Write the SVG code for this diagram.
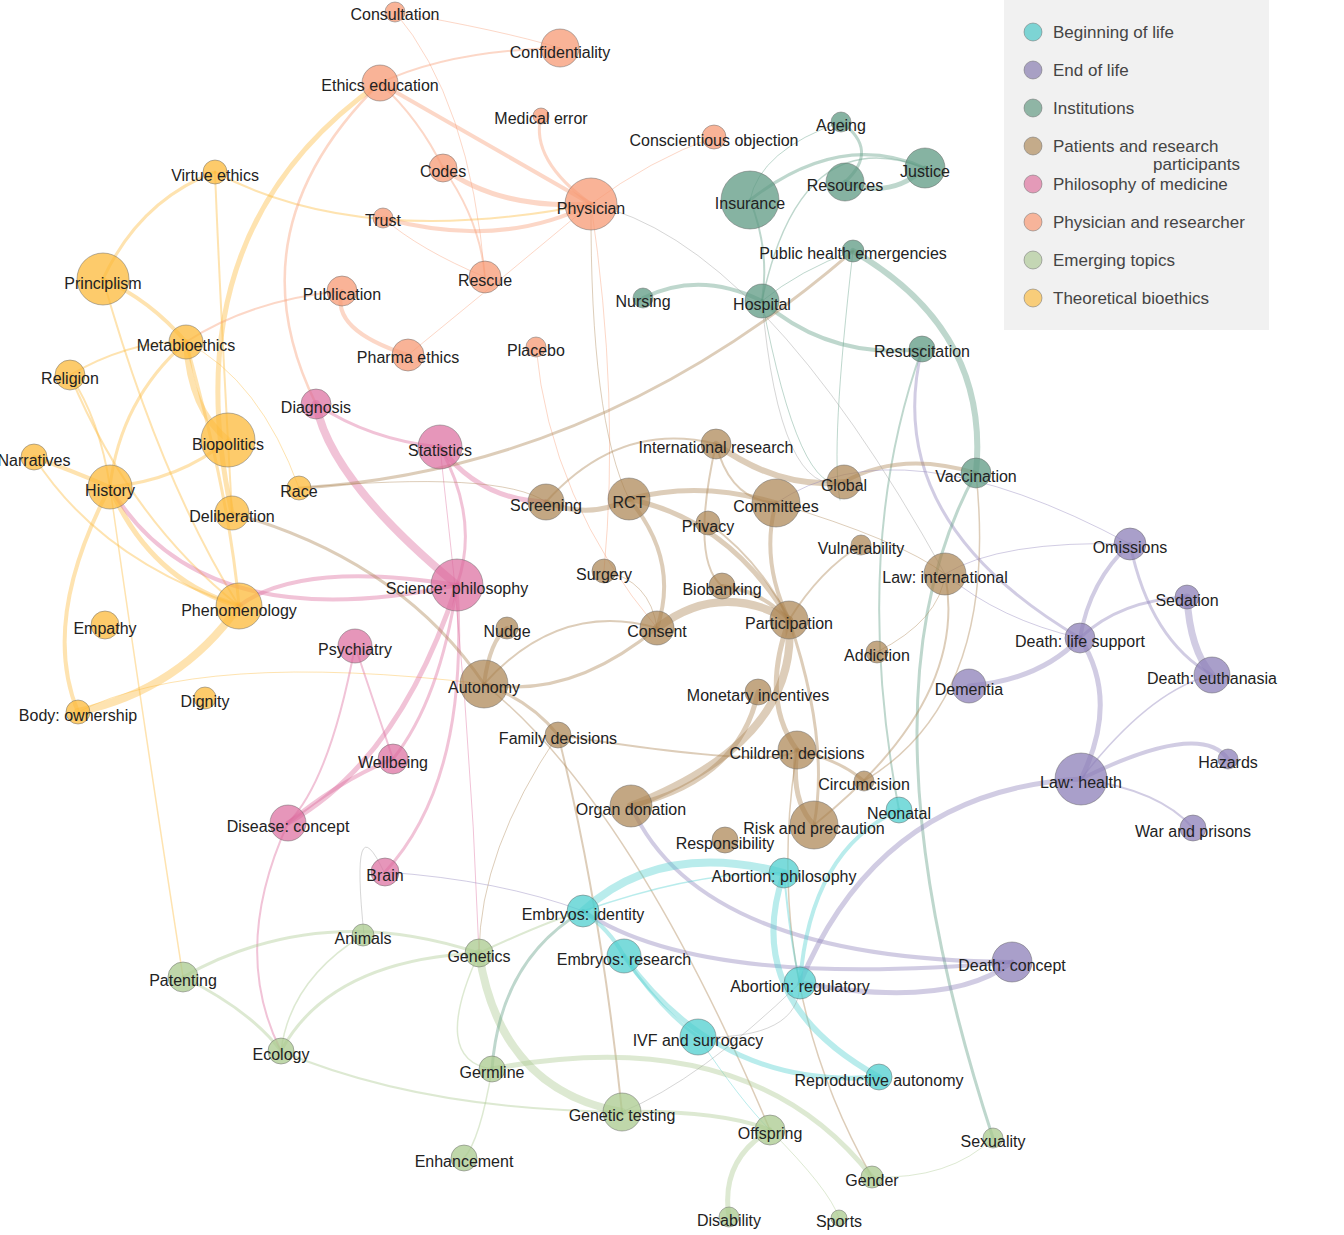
<svg xmlns="http://www.w3.org/2000/svg" width="1344" height="1235" viewBox="0 0 1344 1235">
<style>
text{font-family:"Liberation Sans",Arial,sans-serif;font-size:16px;fill:#222;text-anchor:middle}
.lg text{text-anchor:start;fill:#444;font-size:17px}
circle{stroke:#666;stroke-width:0.8;stroke-opacity:0.6}
.c{fill:#4fcfcf;fill-opacity:0.75}.u{fill:#8c7fb8;fill-opacity:0.75}.t{fill:#5d9a83;fill-opacity:0.75}.b{fill:#a9824f;fill-opacity:0.7}
.p{fill:#dc6a9c;fill-opacity:0.7}.s{fill:#f79a74;fill-opacity:0.75}.g{fill:#a9c98e;fill-opacity:0.75}.o{fill:#fcb93a;fill-opacity:0.75}
#edges path{fill:none;stroke-opacity:0.4;stroke-linecap:round}
.ec{stroke:#4fcfcf}.eu{stroke:#8c7fb8}.et{stroke:#5d9a83}.eb{stroke:#a9824f}.ep{stroke:#dc6a9c}.es{stroke:#f79a74}.eg{stroke:#a9c98e}.eo{stroke:#fcb93a}.ex{stroke:#999}
</style>
<rect width="1344" height="1235" fill="#fff"/>
<g id="edges">
<path class="eo" stroke-width="5" d="M380 83 Q170 230 232 513"/>
<path class="eo" stroke-width="3" d="M215 172 Q140 200 103 279"/>
<path class="eo" stroke-width="4" d="M103 279 Q150 300 186 342"/>
<path class="eo" stroke-width="6" d="M186 342 Q190 410 228 440"/>
<path class="eo" stroke-width="3" d="M186 342 Q120 400 110 487"/>
<path class="eo" stroke-width="5" d="M110 487 Q150 580 239 606"/>
<path class="eo" stroke-width="4" d="M110 487 Q40 620 78 712"/>
<path class="eo" stroke-width="8" d="M239 606 Q180 690 78 712"/>
<path class="eo" stroke-width="4" d="M34 457 Q70 470 110 487"/>
<path class="eo" stroke-width="2" d="M70 375 Q130 520 239 606"/>
<path class="eo" stroke-width="3" d="M228 440 Q180 480 110 487"/>
<path class="eo" stroke-width="2" d="M215 172 Q360 250 591 204"/>
<path class="eo" stroke-width="2" d="M103 279 Q160 480 239 606"/>
<path class="eo" stroke-width="2" d="M70 375 Q130 340 186 342"/>
<path class="eo" stroke-width="3" d="M186 342 Q230 500 239 606"/>
<path class="eo" stroke-width="2" d="M34 457 Q100 560 239 606"/>
<path class="eo" stroke-width="2" d="M215 172 Q220 300 232 513"/>
<path class="eo" stroke-width="2" d="M70 375 Q100 420 110 487"/>
<path class="eo" stroke-width="1" d="M186 342 Q260 380 299 488"/>
<path class="eo" stroke-width="1.5" d="M110 487 Q140 700 183 977"/>
<path class="eo" stroke-width="1" d="M78 712 Q200 650 484 684"/>
<path class="es" stroke-width="4" d="M380 83 Q480 140 591 204"/>
<path class="es" stroke-width="5" d="M443 168 Q500 210 591 204"/>
<path class="es" stroke-width="4" d="M383 218 Q500 250 591 204"/>
<path class="es" stroke-width="3" d="M541 116 Q530 160 591 204"/>
<path class="es" stroke-width="2" d="M560 48 Q450 50 380 83"/>
<path class="es" stroke-width="4" d="M342 291 Q330 330 408 355"/>
<path class="es" stroke-width="2" d="M380 83 Q420 120 443 168"/>
<path class="es" stroke-width="2" d="M443 168 Q480 220 485 277"/>
<path class="es" stroke-width="2" d="M342 291 Q250 300 186 342"/>
<path class="es" stroke-width="2.5" d="M380 83 Q230 230 316 404"/>
<path class="es" stroke-width="1" d="M395 12 Q470 100 485 277"/>
<path class="es" stroke-width="1" d="M591 204 Q650 160 714 137"/>
<path class="es" stroke-width="1" d="M591 204 Q500 280 408 355"/>
<path class="es" stroke-width="1" d="M591 204 Q620 400 604 571"/>
<path class="es" stroke-width="1" d="M536 347 Q550 500 657 628"/>
<path class="es" stroke-width="1" d="M395 12 Q500 30 560 48"/>
<path class="es" stroke-width="1" d="M383 218 Q420 250 485 277"/>
<path class="ep" stroke-width="8" d="M316 404 Q330 480 457 585"/>
<path class="ep" stroke-width="3" d="M316 404 Q370 440 440 447"/>
<path class="ep" stroke-width="5" d="M440 447 Q480 500 546 502"/>
<path class="ep" stroke-width="3" d="M440 447 Q480 520 457 585"/>
<path class="ep" stroke-width="4" d="M457 585 Q300 560 239 606"/>
<path class="ep" stroke-width="5" d="M457 585 Q400 760 288 823"/>
<path class="ep" stroke-width="3" d="M457 585 Q440 700 393 759"/>
<path class="ep" stroke-width="3" d="M457 585 Q470 780 385 872"/>
<path class="ep" stroke-width="4" d="M457 585 Q200 640 110 487"/>
<path class="ep" stroke-width="2" d="M355 646 Q330 780 288 823"/>
<path class="ep" stroke-width="4" d="M393 759 Q340 780 288 823"/>
<path class="ep" stroke-width="2" d="M288 823 Q230 950 281 1051"/>
<path class="ep" stroke-width="2" d="M355 646 Q380 720 393 759"/>
<path class="ep" stroke-width="1" d="M440 447 Q470 700 479 953"/>
<path class="et" stroke-width="3" d="M750 200 Q840 130 925 168"/>
<path class="et" stroke-width="5" d="M845 182 Q890 200 925 168"/>
<path class="et" stroke-width="3" d="M841 122 Q880 150 845 182"/>
<path class="et" stroke-width="6" d="M853 251 Q990 330 976 473"/>
<path class="et" stroke-width="4" d="M643 298 Q700 270 762 301"/>
<path class="et" stroke-width="4" d="M762 301 Q830 360 922 349"/>
<path class="et" stroke-width="2" d="M750 200 Q770 250 762 301"/>
<path class="eu" stroke-width="3" d="M922 349 Q880 520 1080 638"/>
<path class="et" stroke-width="3" d="M976 473 Q850 700 993 1138"/>
<path class="et" stroke-width="2" d="M922 349 Q850 550 899 810"/>
<path class="et" stroke-width="1.5" d="M762 301 Q800 120 925 168"/>
<path class="et" stroke-width="1" d="M853 251 Q800 270 762 301"/>
<path class="et" stroke-width="1" d="M841 122 Q760 150 750 200"/>
<path class="eb" stroke-width="3" d="M853 251 Q600 470 299 488"/>
<path class="et" stroke-width="1" d="M762 301 Q800 500 844 482"/>
<path class="et" stroke-width="1" d="M853 251 Q830 450 840 500"/>
<path class="eb" stroke-width="5" d="M546 502 Q590 520 629 499"/>
<path class="eb" stroke-width="4" d="M629 499 Q680 560 657 628"/>
<path class="eb" stroke-width="5" d="M629 499 Q700 480 776 503"/>
<path class="eb" stroke-width="5" d="M629 499 Q730 520 789 620"/>
<path class="eb" stroke-width="6" d="M716 444 Q780 490 844 482"/>
<path class="eb" stroke-width="4" d="M844 482 Q900 450 976 473"/>
<path class="eb" stroke-width="8" d="M657 628 Q720 580 789 620"/>
<path class="eb" stroke-width="8" d="M789 620 Q800 740 631 806"/>
<path class="eb" stroke-width="5" d="M789 620 Q760 700 797 750"/>
<path class="eb" stroke-width="3" d="M789 620 Q830 740 814 825"/>
<path class="eb" stroke-width="4" d="M776 503 Q760 560 789 620"/>
<path class="eb" stroke-width="4" d="M722 586 Q760 590 789 620"/>
<path class="eb" stroke-width="2" d="M708 523 Q760 560 789 620"/>
<path class="eb" stroke-width="3" d="M657 628 Q570 700 484 684"/>
<path class="eb" stroke-width="4" d="M484 684 Q490 640 507 628"/>
<path class="eb" stroke-width="3" d="M484 684 Q530 700 558 735"/>
<path class="eb" stroke-width="5" d="M758 692 Q740 780 631 806"/>
<path class="eb" stroke-width="5" d="M797 750 Q790 800 814 825"/>
<path class="eb" stroke-width="3" d="M797 750 Q840 760 864 781"/>
<path class="eb" stroke-width="2" d="M558 735 Q600 900 622 1112"/>
<path class="eu" stroke-width="4" d="M631 806 Q700 960 1012 962"/>
<path class="eb" stroke-width="3" d="M232 513 Q400 560 484 684"/>
<path class="eb" stroke-width="2" d="M716 444 Q690 560 722 586"/>
<path class="eb" stroke-width="2" d="M716 444 Q730 500 776 503"/>
<path class="eb" stroke-width="2" d="M484 684 Q560 600 657 628"/>
<path class="eb" stroke-width="2" d="M546 502 Q620 420 716 444"/>
<path class="eb" stroke-width="2" d="M861 545 Q820 570 789 620"/>
<path class="eb" stroke-width="2" d="M945 574 Q970 700 814 825"/>
<path class="eb" stroke-width="1.5" d="M976 473 Q1000 700 864 781"/>
<path class="eb" stroke-width="1.5" d="M484 684 Q630 800 770 1130"/>
<path class="eb" stroke-width="2" d="M558 735 Q780 770 797 750"/>
<path class="eb" stroke-width="1.5" d="M797 750 Q760 980 872 1177"/>
<path class="eb" stroke-width="1" d="M299 488 Q500 470 546 502"/>
<path class="eb" stroke-width="1" d="M558 735 Q480 850 479 953"/>
<path class="eb" stroke-width="1" d="M604 571 Q650 580 657 628"/>
<path class="eb" stroke-width="1" d="M877 652 Q940 620 945 574"/>
<path class="eb" stroke-width="1" d="M629 499 Q590 420 591 204"/>
<path class="eb" stroke-width="1" d="M776 503 Q900 540 945 574"/>
<path class="eu" stroke-width="4" d="M1130 544 Q1090 580 1080 638"/>
<path class="eu" stroke-width="7" d="M1187 597 Q1190 650 1212 675"/>
<path class="eu" stroke-width="3" d="M1130 544 Q1150 640 1212 675"/>
<path class="eu" stroke-width="5" d="M1080 638 Q1120 700 1081 779"/>
<path class="eu" stroke-width="5" d="M969 686 Q1040 680 1080 638"/>
<path class="eu" stroke-width="4" d="M1081 779 Q1200 720 1228 759"/>
<path class="eu" stroke-width="2" d="M1081 779 Q1160 790 1193 828"/>
<path class="eu" stroke-width="5" d="M1081 779 Q880 790 800 983 Q950 1010 1012 962"/>
<path class="eu" stroke-width="4" d="M583 911 Q700 990 1012 962"/>
<path class="eu" stroke-width="3" d="M1187 597 Q1120 600 1080 638"/>
<path class="eu" stroke-width="1.5" d="M1212 675 Q1150 690 1081 779"/>
<path class="eu" stroke-width="1" d="M1130 544 Q1000 540 945 574"/>
<path class="eu" stroke-width="1" d="M1080 638 Q1000 620 945 574"/>
<path class="eu" stroke-width="1" d="M385 872 Q500 880 583 911"/>
<path class="eu" stroke-width="1" d="M1130 544 Q900 420 776 503"/>
<path class="ec" stroke-width="8" d="M583 911 Q660 840 784 873"/>
<path class="ec" stroke-width="6" d="M784 873 Q740 1000 879 1077"/>
<path class="ec" stroke-width="5" d="M624 956 Q720 1090 879 1077"/>
<path class="ec" stroke-width="4" d="M800 983 Q810 850 899 810"/>
<path class="ec" stroke-width="4" d="M583 911 Q610 930 624 956"/>
<path class="ec" stroke-width="3" d="M624 956 Q660 1010 698 1037"/>
<path class="ec" stroke-width="2" d="M784 873 Q790 940 800 983"/>
<path class="ec" stroke-width="1.5" d="M583 911 Q700 870 784 873"/>
<path class="ec" stroke-width="1" d="M698 1037 Q740 1100 770 1130"/>
<path class="eg" stroke-width="8" d="M479 953 Q500 1090 622 1112"/>
<path class="eg" stroke-width="5" d="M492 1069 Q750 1020 872 1177"/>
<path class="eg" stroke-width="5" d="M770 1130 Q720 1160 729 1217"/>
<path class="eg" stroke-width="3" d="M479 953 Q330 960 281 1051"/>
<path class="eg" stroke-width="3" d="M183 977 Q320 900 479 953"/>
<path class="eg" stroke-width="3" d="M183 977 Q250 1010 281 1051"/>
<path class="eg" stroke-width="1.5" d="M492 1069 Q480 1140 464 1158"/>
<path class="et" stroke-width="3" d="M492 1069 Q500 960 583 911"/>
<path class="eg" stroke-width="4" d="M622 1112 Q720 1110 770 1130"/>
<path class="eg" stroke-width="1.5" d="M363 935 Q290 980 281 1051"/>
<path class="eg" stroke-width="2" d="M281 1051 Q420 1110 622 1112"/>
<path class="eg" stroke-width="2" d="M479 953 Q550 920 583 911"/>
<path class="eg" stroke-width="1.5" d="M492 1069 Q430 1060 479 953"/>
<path class="eg" stroke-width="1" d="M770 1130 Q830 1190 839 1218"/>
<path class="eg" stroke-width="1" d="M872 1177 Q950 1180 993 1138"/>
<path class="ex" stroke-width="1" d="M698 1037 Q800 1040 800 983"/>
<path class="ex" stroke-width="1" d="M622 1112 Q700 1080 800 983"/>
<path class="ex" stroke-width="1" d="M591 204 Q760 240 945 574"/>
<path class="ex" stroke-width="1" d="M762 301 Q780 500 844 482"/>
<path class="ex" stroke-width="1" d="M364 935 Q350 800 384 872"/>
</g>
<g id="nodes">
<g id="n-consultation"><circle class="s" cx="395" cy="12" r="10"/><text x="395" y="20">Consultation</text></g>
<g id="n-confidentiality"><circle class="s" cx="560" cy="48" r="19"/><text x="560" y="58">Confidentiality</text></g>
<g id="n-ethics-education"><circle class="s" cx="380" cy="83" r="18"/><text x="380" y="91">Ethics education</text></g>
<g id="n-medical-error"><circle class="s" cx="541" cy="116" r="8"/><text x="541" y="124">Medical error</text></g>
<g id="n-conscientious"><circle class="s" cx="714" cy="137" r="12"/><text x="714" y="146">Conscientious objection</text></g>
<g id="n-codes"><circle class="s" cx="443" cy="168" r="14"/><text x="443" y="177">Codes</text></g>
<g id="n-physician"><circle class="s" cx="591" cy="204" r="26"/><text x="591" y="214">Physician</text></g>
<g id="n-trust"><circle class="s" cx="383" cy="218" r="10"/><text x="383" y="226">Trust</text></g>
<g id="n-rescue"><circle class="s" cx="485" cy="277" r="16"/><text x="485" y="286">Rescue</text></g>
<g id="n-publication"><circle class="s" cx="342" cy="291" r="15"/><text x="342" y="300">Publication</text></g>
<g id="n-pharma"><circle class="s" cx="408" cy="355" r="16"/><text x="408" y="363">Pharma ethics</text></g>
<g id="n-placebo"><circle class="s" cx="536" cy="347" r="10"/><text x="536" y="356">Placebo</text></g>
<g id="n-virtue"><circle class="o" cx="215" cy="172" r="12"/><text x="215" y="181">Virtue ethics</text></g>
<g id="n-principlism"><circle class="o" cx="103" cy="279" r="26"/><text x="103" y="289">Principlism</text></g>
<g id="n-metabioethics"><circle class="o" cx="186" cy="342" r="17"/><text x="186" y="351">Metabioethics</text></g>
<g id="n-religion"><circle class="o" cx="70" cy="375" r="15"/><text x="70" y="384">Religion</text></g>
<g id="n-biopolitics"><circle class="o" cx="228" cy="440" r="27"/><text x="228" y="450">Biopolitics</text></g>
<g id="n-narratives"><circle class="o" cx="34" cy="457" r="13"/><text x="34" y="466">Narratives</text></g>
<g id="n-history"><circle class="o" cx="110" cy="487" r="22"/><text x="110" y="496">History</text></g>
<g id="n-race"><circle class="o" cx="299" cy="488" r="12"/><text x="299" y="497">Race</text></g>
<g id="n-deliberation"><circle class="o" cx="232" cy="513" r="17"/><text x="232" y="522">Deliberation</text></g>
<g id="n-phenomenology"><circle class="o" cx="239" cy="606" r="23"/><text x="239" y="616">Phenomenology</text></g>
<g id="n-empathy"><circle class="o" cx="105" cy="625" r="14"/><text x="105" y="634">Empathy</text></g>
<g id="n-dignity"><circle class="o" cx="205" cy="698" r="11"/><text x="205" y="707">Dignity</text></g>
<g id="n-body"><circle class="o" cx="78" cy="712" r="12"/><text x="78" y="721">Body: ownership</text></g>
<g id="n-diagnosis"><circle class="p" cx="316" cy="404" r="15"/><text x="316" y="413">Diagnosis</text></g>
<g id="n-statistics"><circle class="p" cx="440" cy="447" r="22"/><text x="440" y="456">Statistics</text></g>
<g id="n-science"><circle class="p" cx="457" cy="585" r="26"/><text x="457" y="594">Science: philosophy</text></g>
<g id="n-psychiatry"><circle class="p" cx="355" cy="646" r="17"/><text x="355" y="655">Psychiatry</text></g>
<g id="n-wellbeing"><circle class="p" cx="393" cy="759" r="15"/><text x="393" y="768">Wellbeing</text></g>
<g id="n-disease"><circle class="p" cx="288" cy="823" r="18"/><text x="288" y="832">Disease: concept</text></g>
<g id="n-brain"><circle class="p" cx="385" cy="872" r="14"/><text x="385" y="881">Brain</text></g>
<g id="n-ageing"><circle class="t" cx="841" cy="122" r="10"/><text x="841" y="131">Ageing</text></g>
<g id="n-insurance"><circle class="t" cx="750" cy="200" r="29"/><text x="750" y="209">Insurance</text></g>
<g id="n-resources"><circle class="t" cx="845" cy="182" r="19"/><text x="845" y="191">Resources</text></g>
<g id="n-justice"><circle class="t" cx="925" cy="168" r="20"/><text x="925" y="177">Justice</text></g>
<g id="n-phe"><circle class="t" cx="853" cy="251" r="11"/><text x="853" y="259">Public health emergencies</text></g>
<g id="n-nursing"><circle class="t" cx="643" cy="298" r="10"/><text x="643" y="307">Nursing</text></g>
<g id="n-hospital"><circle class="t" cx="762" cy="301" r="17"/><text x="762" y="310">Hospital</text></g>
<g id="n-resuscitation"><circle class="t" cx="922" cy="349" r="13"/><text x="922" y="357">Resuscitation</text></g>
<g id="n-vaccination"><circle class="t" cx="976" cy="473" r="15"/><text x="976" y="482">Vaccination</text></g>
<g id="n-intl-research"><circle class="b" cx="716" cy="444" r="15"/><text x="716" y="453">International research</text></g>
<g id="n-global"><circle class="b" cx="844" cy="482" r="17"/><text x="844" y="491">Global</text></g>
<g id="n-screening"><circle class="b" cx="546" cy="502" r="18"/><text x="546" y="511">Screening</text></g>
<g id="n-rct"><circle class="b" cx="629" cy="499" r="21"/><text x="629" y="508">RCT</text></g>
<g id="n-committees"><circle class="b" cx="776" cy="503" r="24"/><text x="776" y="512">Committees</text></g>
<g id="n-privacy"><circle class="b" cx="708" cy="523" r="12"/><text x="708" y="532">Privacy</text></g>
<g id="n-vulnerability"><circle class="b" cx="861" cy="545" r="10"/><text x="861" y="554">Vulnerability</text></g>
<g id="n-surgery"><circle class="b" cx="604" cy="571" r="12"/><text x="604" y="580">Surgery</text></g>
<g id="n-law-intl"><circle class="b" cx="945" cy="574" r="21"/><text x="945" y="583">Law: international</text></g>
<g id="n-biobanking"><circle class="b" cx="722" cy="586" r="13"/><text x="722" y="595">Biobanking</text></g>
<g id="n-participation"><circle class="b" cx="789" cy="620" r="19"/><text x="789" y="629">Participation</text></g>
<g id="n-nudge"><circle class="b" cx="507" cy="628" r="11"/><text x="507" y="637">Nudge</text></g>
<g id="n-consent"><circle class="b" cx="657" cy="628" r="17"/><text x="657" y="637">Consent</text></g>
<g id="n-addiction"><circle class="b" cx="877" cy="652" r="11"/><text x="877" y="661">Addiction</text></g>
<g id="n-autonomy"><circle class="b" cx="484" cy="684" r="24"/><text x="484" y="693">Autonomy</text></g>
<g id="n-monetary"><circle class="b" cx="758" cy="692" r="13"/><text x="758" y="701">Monetary incentives</text></g>
<g id="n-family"><circle class="b" cx="558" cy="735" r="13"/><text x="558" y="744">Family decisions</text></g>
<g id="n-children"><circle class="b" cx="797" cy="750" r="19"/><text x="797" y="759">Children: decisions</text></g>
<g id="n-circumcision"><circle class="b" cx="864" cy="781" r="10"/><text x="864" y="790">Circumcision</text></g>
<g id="n-organ"><circle class="b" cx="631" cy="806" r="21"/><text x="631" y="815">Organ donation</text></g>
<g id="n-risk"><circle class="b" cx="814" cy="825" r="24"/><text x="814" y="834">Risk and precaution</text></g>
<g id="n-responsibility"><circle class="b" cx="725" cy="840" r="13"/><text x="725" y="849">Responsibility</text></g>
<g id="n-omissions"><circle class="u" cx="1130" cy="544" r="16"/><text x="1130" y="553">Omissions</text></g>
<g id="n-sedation"><circle class="u" cx="1187" cy="597" r="12"/><text x="1187" y="606">Sedation</text></g>
<g id="n-life-support"><circle class="u" cx="1080" cy="638" r="15"/><text x="1080" y="647">Death: life support</text></g>
<g id="n-dementia"><circle class="u" cx="969" cy="686" r="17"/><text x="969" y="695">Dementia</text></g>
<g id="n-euthanasia"><circle class="u" cx="1212" cy="675" r="18"/><text x="1212" y="684">Death: euthanasia</text></g>
<g id="n-law-health"><circle class="u" cx="1081" cy="779" r="26"/><text x="1081" y="788">Law: health</text></g>
<g id="n-hazards"><circle class="u" cx="1228" cy="759" r="10"/><text x="1228" y="768">Hazards</text></g>
<g id="n-war"><circle class="u" cx="1193" cy="828" r="13"/><text x="1193" y="837">War and prisons</text></g>
<g id="n-death-concept"><circle class="u" cx="1012" cy="962" r="20"/><text x="1012" y="971">Death: concept</text></g>
<g id="n-neonatal"><circle class="c" cx="899" cy="810" r="13"/><text x="899" y="819">Neonatal</text></g>
<g id="n-abortion-phil"><circle class="c" cx="784" cy="873" r="15"/><text x="784" y="882">Abortion: philosophy</text></g>
<g id="n-embryos-id"><circle class="c" cx="583" cy="911" r="16"/><text x="583" y="920">Embryos: identity</text></g>
<g id="n-embryos-res"><circle class="c" cx="624" cy="956" r="17"/><text x="624" y="965">Embryos: research</text></g>
<g id="n-abortion-reg"><circle class="c" cx="800" cy="983" r="16"/><text x="800" y="992">Abortion: regulatory</text></g>
<g id="n-ivf"><circle class="c" cx="698" cy="1037" r="18"/><text x="698" y="1046">IVF and surrogacy</text></g>
<g id="n-repro"><circle class="c" cx="879" cy="1077" r="13"/><text x="879" y="1086">Reproductive autonomy</text></g>
<g id="n-animals"><circle class="g" cx="363" cy="935" r="11"/><text x="363" y="944">Animals</text></g>
<g id="n-genetics"><circle class="g" cx="479" cy="953" r="14"/><text x="479" y="962">Genetics</text></g>
<g id="n-patenting"><circle class="g" cx="183" cy="977" r="15"/><text x="183" y="986">Patenting</text></g>
<g id="n-ecology"><circle class="g" cx="281" cy="1051" r="13"/><text x="281" y="1060">Ecology</text></g>
<g id="n-germline"><circle class="g" cx="492" cy="1069" r="13"/><text x="492" y="1078">Germline</text></g>
<g id="n-genetic-testing"><circle class="g" cx="622" cy="1112" r="19"/><text x="622" y="1121">Genetic testing</text></g>
<g id="n-offspring"><circle class="g" cx="770" cy="1130" r="15"/><text x="770" y="1139">Offspring</text></g>
<g id="n-enhancement"><circle class="g" cx="464" cy="1158" r="13"/><text x="464" y="1167">Enhancement</text></g>
<g id="n-sexuality"><circle class="g" cx="993" cy="1138" r="10"/><text x="993" y="1147">Sexuality</text></g>
<g id="n-gender"><circle class="g" cx="872" cy="1177" r="11"/><text x="872" y="1186">Gender</text></g>
<g id="n-disability"><circle class="g" cx="729" cy="1217" r="10"/><text x="729" y="1226">Disability</text></g>
<g id="n-sports"><circle class="g" cx="839" cy="1218" r="8"/><text x="839" y="1227">Sports</text></g>
</g>
<g id="legend" class="lg">
<rect x="1004" y="0" width="265" height="330" fill="#f1f1f1"/>
<circle cx="1033" cy="32" r="9" fill="#7dd4d4"/><text x="1053" y="38">Beginning of life</text>
<circle cx="1033" cy="70" r="9" fill="#a8a0c4"/><text x="1053" y="76">End of life</text>
<circle cx="1033" cy="108" r="9" fill="#8fb5a5"/><text x="1053" y="114">Institutions</text>
<circle cx="1033" cy="146" r="9" fill="#c4ab8a"/><text x="1053" y="152">Patients and research</text>
<text x="1153" y="170">participants</text>
<circle cx="1033" cy="184" r="9" fill="#e49ab8"/><text x="1053" y="190">Philosophy of medicine</text>
<circle cx="1033" cy="222" r="9" fill="#f7b49a"/><text x="1053" y="228">Physician and researcher</text>
<circle cx="1033" cy="260" r="9" fill="#c4d6b4"/><text x="1053" y="266">Emerging topics</text>
<circle cx="1033" cy="298" r="9" fill="#f8cd7a"/><text x="1053" y="304">Theoretical bioethics</text>
</g>
</svg>
